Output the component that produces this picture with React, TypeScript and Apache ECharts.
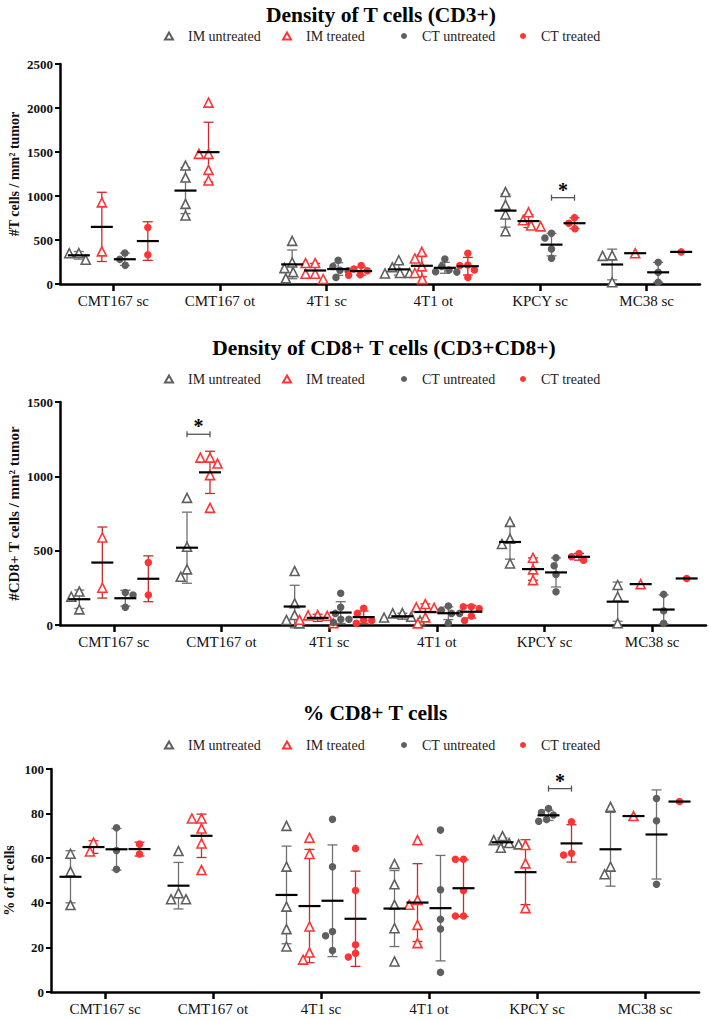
import React, { useEffect, useRef } from 'react';
import * as echarts from 'echarts';

// ---------------- data ----------------
const categories = ['CMT167 sc', 'CMT167 ot', '4T1 sc', '4T1 ot', 'KPCY sc', 'MC38 sc'];
const groups = ['IM untreated', 'IM treated', 'CT untreated', 'CT treated'];

// Panel 1: Density of T cells (CD3+), replicate values per category
const cd3ImUntreated = [[352, 350, 276], [1346, 1210, 911, 779], [490, 245, 180, 135, 65], [270, 190, 125, 125, 120], [1045, 900, 790, 600], [325, 320, 20]];
const cd3ImTreated = [[927, 371], [2061, 1479, 1479, 1297, 1176], [238, 238, 117, 117, 57], [365, 290, 200, 125, 55], [815, 725, 665, 655], [350]];
const cd3CtUntreated = [[352, 280, 212], [], [270, 200, 155, 150, 75], [285, 200, 160, 140, 135], [576, 523, 398, 292], [246, 133, 19]];
const cd3CtTreated = [[643, 333], [], [210, 170, 150, 105, 100], [350, 215, 210, 160, 75], [754, 689, 629], [365]];
const cd3Ticks = [0, 500, 1000, 1500, 2000, 2500];

// Panel 2: Density of CD8+ T cells (CD3+CD8+)
const cd8ImUntreated = [[225, 190, 105], [855, 526, 374, 325], [363, 146, 67, 34, 11], [80, 78, 55, 50, 30], [694, 580, 545, 414], [269, 190, 12]];
const cd8ImTreated = [[589, 251], [1126, 1126, 1086, 1008, 788], [67, 65, 62, 35, 12], [141, 119, 115, 51, 11], [452, 374, 302], [275]];
const cd8CtUntreated = [[219, 202, 119], [], [213, 119, 78, 38, 38, 16], [128, 100, 78, 78, 12], [452, 399, 340, 224], [206, 95, 11]];
const cd8CtTreated = [[420, 202], [], [112, 78, 34, 30, 11], [123, 123, 110, 60, 30], [481, 459, 436], [313]];
const cd8Ticks = [0, 500, 1000, 1500];

// Panel 3: % CD8+ T cells
const pctImUntreated = [[62, 54, 39], [63.2, 44.3, 41.6, 41.6], [74.5, 56.2, 38.3, 28.2, 20.4], [57.4, 48.3, 39.1, 28.6, 13.7], [69.9, 68.1, 66.8, 66.2, 64.7], [83, 56.2, 52.8]];
const pctImTreated = [[67, 63], [77.8, 77.8, 73.3, 66.6, 54.7], [69.2, 61.9, 29.4, 17.7, 14.5], [68.1, 41.3, 39.1, 30.1, 21.9], [65.9, 57.7, 37.6], [78.9]];
const pctCtUntreated = [[73.6, 63.4, 55], [], [77.5, 56.2, 27.1, 25.2, 18.6], [72.6, 45.8, 32.6, 28.2, 8.8], [82.3, 80.5, 79.4, 77.4, 76.6], [86.8, 76.8, 48.3]];
const pctCtTreated = [[66.3, 61.9], [], [64.4, 45.5, 21.2, 17.4, 15.7], [59.5, 59.5, 45.5, 34.1, 34.1], [76.3, 62.2, 61.4], [85.4]];
const pctTicks = [0, 20, 40, 60, 80, 100];

// significance brackets: [category index, bracket value, from group, to group]
const cd3Sig = [[4, 981, 2, 3]];
const cd8Sig = [[1, 1283, 0, 1]];
const pctSig = [[4, 91.2, 2, 3]];

const titles = ['Density of T cells (CD3+)', 'Density of CD8+ T cells (CD3+CD8+)', '% CD8+ T cells'];
const yNames = ['#T cells / mm\u00B2 tumor', '#CD8+ T cells / mm\u00B2 tumor', '% of T cells'];

// ---------------- styling / layout ----------------
const SERIF = 'Liberation Serif, Times New Roman, serif';
const GRAY = '#5f5f5f';
const RED = '#ff3535';
const GRAY_BAR = '#707070';
const RED_BAR = '#cc2a2a';
const W = 709;
const H = 1020;
const offsets = [-34.5, -11.5, 11.5, 34.5];
const legendLefts = [164, 282, 401, 520];
const groupStyles = [
  { symbol: 'triangle', size: 9, color: '#ffffff', border: GRAY, bw: 1.6, bar: GRAY_BAR },
  { symbol: 'triangle', size: 9, color: '#ffffff', border: RED, bw: 1.6, bar: RED_BAR },
  { symbol: 'circle', size: 7.5, color: GRAY, border: GRAY, bw: 0, bar: GRAY_BAR },
  { symbol: 'circle', size: 7.5, color: RED, border: RED, bw: 0, bar: RED_BAR },
];
const layouts = [
  { titleX: 381, titleY: 15, legendY: 38, top: 64, bottom: 284, left: 60, right: 700, nameGap: 39, nameSize: 14 },
  { titleX: 384, titleY: 348, legendY: 381, top: 402, bottom: 625, left: 60, right: 706, nameGap: 39, nameSize: 15 },
  { titleX: 375, titleY: 713, legendY: 747, top: 769, bottom: 992, left: 51, right: 699, nameGap: 35, nameSize: 14 },
];

const panelData = [
  { groupsData: [cd3ImUntreated, cd3ImTreated, cd3CtUntreated, cd3CtTreated], ticks: cd3Ticks, sig: cd3Sig },
  { groupsData: [cd8ImUntreated, cd8ImTreated, cd8CtUntreated, cd8CtTreated], ticks: cd8Ticks, sig: cd8Sig },
  { groupsData: [pctImUntreated, pctImTreated, pctCtUntreated, pctCtTreated], ticks: pctTicks, sig: pctSig },
];

function stats(vals: number[]) {
  const n = vals.length;
  const mean = vals.reduce((a, b) => a + b, 0) / n;
  const sd = n > 1 ? Math.sqrt(vals.reduce((a, b) => a + (b - mean) * (b - mean), 0) / (n - 1)) : 0;
  return { mean, sd };
}

function buildOption() {
  const grid: any[] = [];
  const xAxis: any[] = [];
  const yAxis: any[] = [];
  const series: any[] = [];
  const legend: any[] = [];
  const graphic: any[] = [];

  panelData.forEach((p, pi) => {
    const L = layouts[pi];
    const ticks = p.ticks;
    const yMax = ticks[ticks.length - 1];
    const yInterval = ticks[1] - ticks[0];
    const gw = L.right - L.left;
    const gh = L.bottom - L.top;
    const base = grid.length;

    grid.push({ left: L.left, top: L.top, width: gw, height: gh, outerBoundsMode: 'none', containLabel: false });
    xAxis.push({
      gridIndex: base,
      type: 'category',
      data: categories,
      boundaryGap: true,
      axisLine: { show: true, lineStyle: { color: '#000', width: 2.5 } },
      axisTick: { show: true, alignWithLabel: true, length: 7, lineStyle: { color: '#000', width: 2.5 } },
      axisLabel: { fontFamily: SERIF, fontSize: 15, color: '#111', margin: 9 },
      splitLine: { show: false },
    });
    yAxis.push({
      gridIndex: base,
      type: 'value',
      min: 0,
      max: yMax,
      interval: yInterval,
      axisLine: { show: true, lineStyle: { color: '#000', width: 2.5 } },
      axisTick: { show: true, length: 5, lineStyle: { color: '#000', width: 2 } },
      axisLabel: {
        fontFamily: SERIF,
        fontSize: 13,
        fontWeight: 'bold',
        color: '#111',
        margin: 7,
        formatter: (v: number) => String(v),
      },
      splitLine: { show: false },
      name: yNames[pi],
      nameLocation: 'middle',
      nameRotate: 90,
      nameGap: L.nameGap,
      nameMoveOverlap: false,
      nameTextStyle: { fontFamily: SERIF, fontSize: L.nameSize, fontWeight: 'bold', color: '#111' },
    });

    // significance bracket on the main grid
    series.push({
      type: 'custom',
      name: 'sig' + pi,
      xAxisIndex: base,
      yAxisIndex: base,
      silent: true,
      z: 6,
      data: p.sig,
      renderItem: (params: any, api: any) => {
        const ci = api.value(0);
        const v = api.value(1);
        const from = api.value(2);
        const to = api.value(3);
        const c = api.coord([ci, v]);
        const x1 = c[0] + offsets[from];
        const x2 = c[0] + offsets[to];
        const y = c[1];
        const st = { stroke: '#555', lineWidth: 1.3 };
        return {
          type: 'group',
          children: [
            { type: 'line', shape: { x1, y1: y, x2, y2: y }, style: st },
            { type: 'line', shape: { x1, y1: y - 3, x2: x1, y2: y + 3 }, style: st },
            { type: 'line', shape: { x1: x2, y1: y - 3, x2, y2: y + 3 }, style: st },
            {
              type: 'text',
              x: (x1 + x2) / 2,
              y: y - 8,
              style: {
                text: '*',
                font: 'bold 20px ' + SERIF,
                fill: '#000',
                textAlign: 'center',
                textVerticalAlign: 'middle',
                align: 'center',
                verticalAlign: 'middle',
              },
            },
          ],
        };
      },
    });

    groups.forEach((gName, gi) => {
      const idx = grid.length;
      const gs = groupStyles[gi];
      grid.push({ left: L.left + offsets[gi], top: L.top, width: gw, height: gh, outerBoundsMode: 'none', containLabel: false });
      xAxis.push({
        gridIndex: idx,
        type: 'category',
        data: categories,
        boundaryGap: true,
        show: false,
        jitter: 40,
        jitterOverlap: false,
        jitterMargin: 0.6,
      });
      yAxis.push({ gridIndex: idx, type: 'value', min: 0, max: yMax, interval: yInterval, show: false });

      const values = p.groupsData[gi];
      const points: number[][] = [];
      const summary: number[][] = [];
      values.forEach((vals, ci) => {
        vals.forEach((v) => points.push([ci, v]));
        if (vals.length) {
          const s = stats(vals);
          summary.push([ci, s.mean, s.sd]);
        }
      });

      // error bars (SD)
      series.push({
        type: 'custom',
        name: 'bar-' + pi + '-' + gi,
        xAxisIndex: idx,
        yAxisIndex: idx,
        silent: true,
        z: 2,
        data: summary,
        renderItem: (params: any, api: any) => {
          const ci = api.value(0);
          const mean = api.value(1);
          const sd = api.value(2);
          if (!(sd > 0)) return { type: 'group', children: [] };
          const top = api.coord([ci, mean + sd]);
          const bot = api.coord([ci, mean - sd]);
          const st = { stroke: gs.bar, lineWidth: 1.3 };
          return {
            type: 'group',
            children: [
              { type: 'line', shape: { x1: top[0], y1: top[1], x2: bot[0], y2: bot[1] }, style: st },
              { type: 'line', shape: { x1: top[0] - 5, y1: top[1], x2: top[0] + 5, y2: top[1] }, style: st },
              { type: 'line', shape: { x1: bot[0] - 5, y1: bot[1], x2: bot[0] + 5, y2: bot[1] }, style: st },
            ],
          };
        },
      });

      // individual points
      series.push({
        type: 'scatter',
        name: gName,
        xAxisIndex: idx,
        yAxisIndex: idx,
        silent: true,
        z: 3,
        symbol: gs.symbol,
        symbolSize: gs.size,
        itemStyle: { color: gs.color, borderColor: gs.border, borderWidth: gs.bw, opacity: 1 },
        data: points,
      });

      // mean line
      series.push({
        type: 'custom',
        name: 'mean-' + pi + '-' + gi,
        xAxisIndex: idx,
        yAxisIndex: idx,
        silent: true,
        z: 4,
        data: summary,
        renderItem: (params: any, api: any) => {
          const c = api.coord([api.value(0), api.value(1)]);
          return {
            type: 'line',
            shape: { x1: c[0] - 11, y1: c[1], x2: c[0] + 11, y2: c[1] },
            style: { stroke: '#000', lineWidth: 2.2 },
          };
        },
      });

      // one legend per item so that the columns keep an even spacing
      legend.push({
        data: [{ name: gName }],
        left: legendLefts[gi],
        top: L.legendY - 9,
        padding: 0,
        itemWidth: gi < 2 ? 8 : 6,
        itemHeight: gi < 2 ? 7 : 6,
        selectedMode: false,
        textStyle: { fontFamily: SERIF, fontSize: 14, color: '#222', padding: [0, 0, 0, 10] },
      });
    });

    graphic.push({
      type: 'text',
      x: L.titleX,
      y: L.titleY,
      style: {
        text: titles[pi],
        font: 'bold 21.5px ' + SERIF,
        fill: '#000',
        textAlign: 'center',
        textVerticalAlign: 'middle',
        align: 'center',
        verticalAlign: 'middle',
      },
    });
  });

  return {
    animation: false,
    backgroundColor: '#ffffff',
    grid,
    xAxis,
    yAxis,
    series,
    legend,
    graphic,
  };
}

export default function App() {
  const ref = useRef<HTMLDivElement>(null);
  useEffect(() => {
    if (!ref.current) return;
    const chart = echarts.init(ref.current, null, { renderer: 'svg' });
    chart.setOption(buildOption() as any);
    return () => chart.dispose();
  }, []);
  return (
    <div
      ref={ref}
      style={{ position: 'absolute', left: 0, top: 0, width: W, height: H, background: '#fff' }}
    />
  );
}
